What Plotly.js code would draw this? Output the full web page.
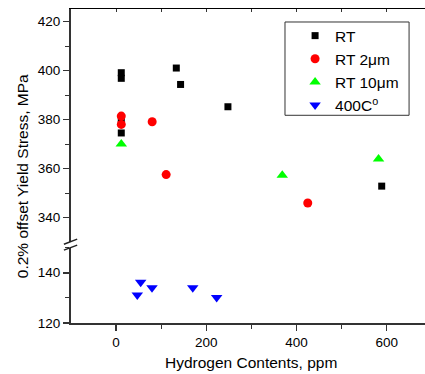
<!DOCTYPE html>
<html><head><meta charset="utf-8">
<script src="https://cdn.plot.ly/plotly-3.0.1.min.js"></script>
<style>html,body{margin:0;padding:0;background:#fff}#chart{width:425px;height:374px}</style>
</head><body><div id="chart"></div>
<script>
// Data (Hydrogen content in ppm, yield stress in MPa)
const seriesNames = ["RT", "RT 2\u03bcm", "RT 10\u03bcm", "400C<sup>o</sup>"];
const rtX = [11.5, 11.5, 11.5, 11.5, 133.5, 143, 248, 589];
const rtY = [399.2, 396.9, 379.8, 374.6, 401.1, 394.4, 385.3, 352.9];
const rt2X = [11.5, 11.5, 80, 111, 425];
const rt2Y = [381.5, 378.1, 379.2, 357.6, 346.0];
const rt10X = [11.5, 368.5, 582];
const rt10Y = [370.1, 357.3, 364.0];
const h400X = [54.5, 47, 79.6, 170, 223];
const h400Y = [136.2, 131.1, 134.0, 134.0, 130.2];
const xTicks = [0, 200, 400, 600];

const FONT = "Liberation Sans, Arial, sans-serif";
const traces = [
  {x: rtX, y: rtY, name: seriesNames[0], type: "scatter", mode: "markers", yaxis: "y2",
   marker: {symbol: "square", size: 7, color: "#000000"}},
  {x: rt2X, y: rt2Y, name: seriesNames[1], type: "scatter", mode: "markers", yaxis: "y2",
   marker: {symbol: "circle", size: 9, color: "#ff0000"}},
  {x: rt10X, y: rt10Y, name: seriesNames[2], type: "scatter", mode: "markers", yaxis: "y2",
   marker: {symbol: "triangle-up", size: 10, color: "#00ff00"}},
  {x: h400X, y: h400Y, name: seriesNames[3], type: "scatter", mode: "markers", yaxis: "y",
   marker: {symbol: "triangle-down", size: 10, color: "#0000ff"}},
  {x: [], y: [], xaxis: "x2", yaxis: "y2", showlegend: false, hoverinfo: "skip", type: "scatter"}
];

const axisCommon = {
  showgrid: false, zeroline: false, showline: true, linecolor: "#333333", linewidth: 2,
  ticks: "outside", ticklen: 6, tickwidth: 1.5, tickcolor: "#333333",
  tickfont: {family: FONT, size: 13.5, color: "#000"}
};

const layout = {
  width: 425, height: 374,
  margin: {l: 71, r: 0, t: 9, b: 51},
  paper_bgcolor: "#fff", plot_bgcolor: "#fff",
  font: {family: FONT, color: "#000"},
  showlegend: true,
  legend: {x: 0.633, y: 0.968, xanchor: "left", yanchor: "top",
    borderwidth: 0, bgcolor: "rgba(0,0,0,0)",
    font: {family: FONT, size: 15.5, color: "#000"}, tracegroupgap: 0},
  xaxis: Object.assign({}, axisCommon, {
    range: [-100, 685], anchor: "y", tickvals: xTicks, ticktext: xTicks.map(String),
    minor: {ticks: "outside", ticklen: 4, tickwidth: 1, tickcolor: "#333", tickvals: [100, 300, 500]}
  }),
  xaxis2: {overlaying: "x", side: "top", anchor: "y2", range: [-100, 685],
    showgrid: false, zeroline: false, showline: true, linecolor: "#000", linewidth: 1.5,
    ticks: "inside", ticklen: 3, tickwidth: 1, tickcolor: "#333",
    tickvals: [-100, 0, 100, 200, 300, 400, 500, 600], showticklabels: false},
  yaxis: Object.assign({}, axisCommon, {
    domain: [0, 0.240], range: [120, 150], tick0: 120, dtick: 20, anchor: "x",
    minor: {ticks: "outside", ticklen: 4, tickwidth: 1, tickcolor: "#333", dtick: 10}
  }),
  yaxis2: Object.assign({}, axisCommon, {
    domain: [0.258, 1], range: [330.1, 425.2], tick0: 0, dtick: 20, anchor: "x",
    minor: {ticks: "outside", ticklen: 4, tickwidth: 1, tickcolor: "#333", dtick: 10}
  }),
  annotations: [
    {text: "0.2% offset Yield Stress, MPa", xref: "paper", yref: "paper",
     x: -0.138, y: 0.468, xanchor: "center", yanchor: "middle", textangle: -90, showarrow: false,
     font: {family: FONT, size: 15.5, color: "#000"}},
    {text: "Hydrogen Contents, ppm", xref: "paper", yref: "paper",
     x: 0.509, y: -0.125, xanchor: "center", yanchor: "middle", showarrow: false,
     font: {family: FONT, size: 15.5, color: "#000"}}
  ],
  shapes: [
    {type: "rect", xref: "paper", yref: "paper", x0: 0.6045, x1: 0.955, y0: 0.6615, y1: 0.9586,
     line: {color: "#333", width: 1}, fillcolor: "rgba(0,0,0,0)"},
    {type: "line", xref: "paper", yref: "paper", x0: -0.02, x1: 0.0175, y0: 0.251, y1: 0.267,
     line: {color: "#222", width: 1.5}},
    {type: "line", xref: "paper", yref: "paper", x0: -0.02, x1: 0.0175, y0: 0.232, y1: 0.248,
     line: {color: "#222", width: 1.5}}
  ]
};

Plotly.newPlot("chart", traces, layout, {displayModeBar: false, staticPlot: true});
</script></body></html>
